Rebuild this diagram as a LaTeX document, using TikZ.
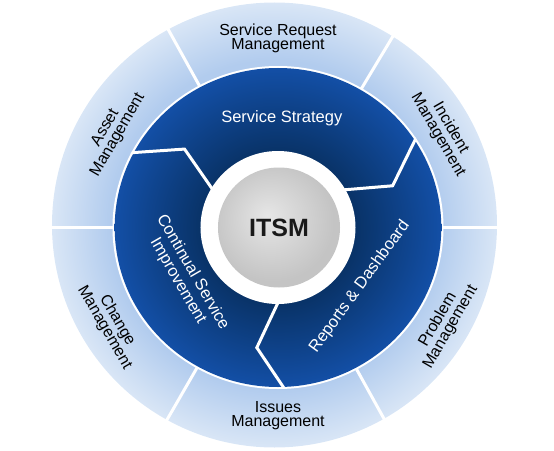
\documentclass[tikz,border=0pt]{standalone}
\usepackage{fontspec}
\setmainfont{Liberation Sans}
\definecolor{ringin}{HTML}{B2CCEE}
\definecolor{ringout}{HTML}{D9E6F6}
\definecolor{navyin}{HTML}{093368}
\definecolor{navyout}{HTML}{134FA6}
\definecolor{corein}{HTML}{E6E6E6}
\definecolor{coreout}{HTML}{C4C4C4}
\pgfdeclareradialshading{lightring}{\pgfpoint{0bp}{0bp}}{color(0bp)=(ringin); color(18.5bp)=(ringin); color(25bp)=(ringout); color(50bp)=(ringout)}
\pgfdeclareradialshading{darkring}{\pgfpoint{0bp}{0bp}}{color(0bp)=(navyin); color(12bp)=(navyin); color(25bp)=(navyout); color(50bp)=(navyout)}
\pgfdeclareradialshading{core}{\pgfpoint{-5bp}{5bp}}{color(0bp)=(corein); color(25bp)=(coreout); color(50bp)=(coreout)}
\tikzset{
  outerlabel/.style={align=center, font=\fontsize{16}{14.5}\selectfont, text=black},
  innerlabel/.style={align=center, font=\fontsize{16.5}{17}\selectfont, text=white},
  gap/.style={white, line width=3pt, line join=miter}
}
\begin{document}
\begin{tikzpicture}[x=1pt,y=1pt]
      \useasboundingbox (-278,-222.5) rectangle (276,227.5);
      \shade[shading=lightring] (-3.5,2.5) circle (222.5);
      \foreach \a in {0,59,119,180,240,299}
        \draw[gap] (\a:150) -- (\a:230);
      \fill[white] (0,0) ellipse (165.5 and 161.5);
      \shade[shading=darkring] (0,0) ellipse (163.3 and 159.5);
      \begin{scope}
        \clip (0,0) ellipse (165.5 and 161.5);
        \foreach \a in {32,152,272}
          \draw[gap] (\a:70) -- (\a-12:122) -- (\a+3:175);
      \end{scope}
      \fill[white] (0,0) ellipse (77.5 and 76.5);
      \shade[shading=core] (1,0) ellipse (61 and 60);
      \path
        (90:189) node[outerlabel] (request) {Service Request\\Management}
        (30:192) node[outerlabel, rotate=-60] (incident) {Incident\\Management}
        (330:192) node[outerlabel, rotate=60] (problem) {Problem\\Management}
        (270:188) node[outerlabel] (issues) {Issues\\Management}
        (210:193) node[outerlabel, rotate=-60] (change) {Change\\Management}
        (150:192) node[outerlabel, rotate=60] (asset) {Asset\\Management};
      \path
        (88:109) node[innerlabel] (strategy) {Service Strategy}
        (-36:101) node[innerlabel, rotate=54] (reports) {Reports \& Dashboard}
        (208:105) node[innerlabel, rotate=-60] (improvement) {Continual Service\\Improvement}
        (1,0) node[font=\bfseries\fontsize{25}{25}\selectfont, text=black!90] (itsm) {ITSM};
    \end{tikzpicture}
\end{document}
